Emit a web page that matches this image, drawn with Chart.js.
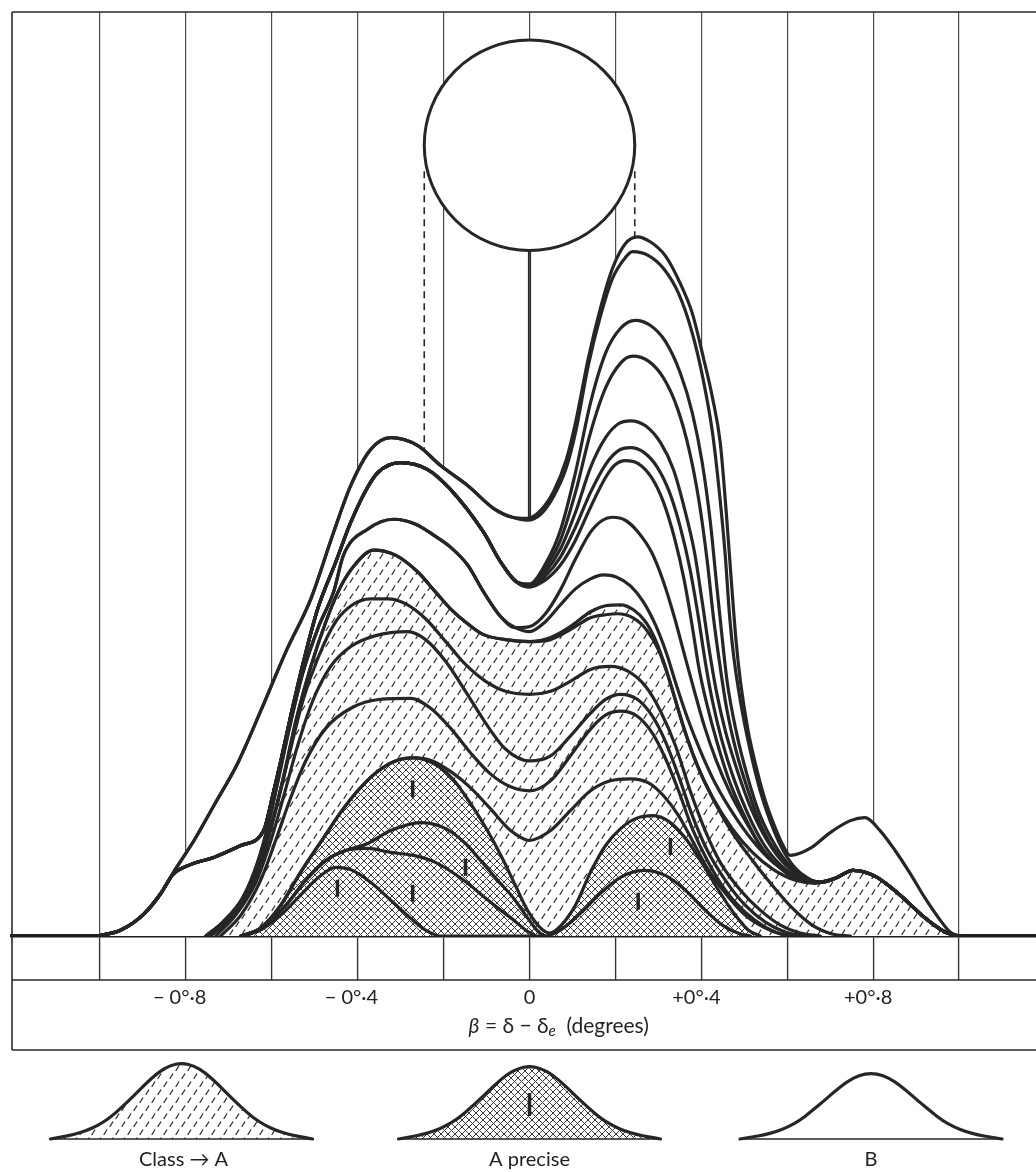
<!DOCTYPE html>
<html><head><meta charset="utf-8">
<script src="https://cdn.jsdelivr.net/npm/chart.js@4.4.1/dist/chart.umd.min.js"></script>
<style>
html,body{margin:0;padding:0;background:#fff;overflow:hidden}
#wrap{width:1036px;height:1172px;overflow:hidden;position:relative;background:#fff}
canvas{display:block}
</style>
</head><body>
<div id="wrap"><canvas id="c" width="1060" height="1172" style="width:1060px;height:1172px"></canvas></div>
<script>
// ---------- axis / text ----------
const gridValues = [-1, -0.8, -0.6, -0.4, -0.2, 0, 0.2, 0.4, 0.6, 0.8, 1];
const labelValues = [-0.8, -0.4, 0, 0.4, 0.8];
const tickLabels = ['\u2212 0\u00b0\u00b78\u2002\u2009', '\u2212 0\u00b0\u00b74\u2002\u2009', '0', '+0\u00b0\u00b74\u2002', '+0\u00b0\u00b78\u2002'];
const titleParts = [['\u03b2', 'italic'], [' = \u03b4 \u2212 \u03b4', 'normal'], ['e', 'sub'], ['  (degrees)', 'normal']];
const legendLabels = ['Class \u2192 A', 'A precise', 'B'];
const legendFills = ['dash', 'cross', 'none'];

// ---------- class means (tick marks in the cross-hatched part) ----------
const meanDeg = [-0.447, -0.272, -0.149, -0.272, 0.253, 0.328];
const meanLevel = [4.8, 4.3, 6.9, 14.8, 3.5, 9.0];

// ---------- sun disc ----------
const sunCentreDeg = 0;
const sunCentreLevel = 79.5;
const sunDiameterDeg = 0.49;

// ---------- cumulative curves: [beta (deg), level] ----------
const lineL1 = [[-0.672,0],[-0.626,0.6],[-0.579,2.1],[-0.533,4.1],[-0.491,5.9],[-0.451,6.9],[-0.412,6.6],[-0.370,5.4],[-0.323,3.6],[-0.277,1.8],[-0.242,0.6],[-0.207,0],[0.037,0],[0.072,0.6],[0.119,2.3],[0.165,4.3],[0.212,5.9],[0.265,6.6],[0.316,6.1],[0.363,4.6],[0.409,2.6],[0.449,1.1],[0.491,0.2],[0.514,0]];
const leftL2 = [[-0.660,0],[-0.614,1.1],[-0.567,3.1],[-0.521,5.6],[-0.474,7.6],[-0.428,8.6]];
const restL2 = [[-0.377,8.8],[-0.323,8.4],[-0.270,8.1],[-0.219,7.4],[-0.153,5.6],[-0.102,3.8],[-0.067,2.6],[-0.037,1.6],[-0.009,0.6],[0.014,0]];
const restL3 = [[-0.377,9.3],[-0.323,10.6],[-0.253,11.4],[-0.195,10.8],[-0.149,9.3],[-0.114,7.6],[-0.074,5.6],[-0.037,3.8],[-0.009,2.1],[0.021,0.4],[0.037,0]];
const leftX = [[-0.672,0],[-0.626,0.8],[-0.579,3.1],[-0.533,6.4],[-0.479,9.9],[-0.440,12.4],[-0.400,14.6],[-0.358,16.4],[-0.312,17.6],[-0.270,17.9]];
const restX = [[-0.226,17.4],[-0.179,15.8],[-0.137,13.3],[-0.098,10.6],[-0.063,7.8],[-0.033,5.1],[-0.005,2.6],[0.026,0.8],[0.047,0.3],[0.072,1.0],[0.107,3.1],[0.142,6.4],[0.177,9.1],[0.212,10.8],[0.247,11.8],[0.288,12.1],[0.328,11.4],[0.367,9.6],[0.405,7.1],[0.440,4.6],[0.474,2.4],[0.509,0.6],[0.537,0]];
const restD1 = [[-0.226,17.6],[-0.179,16.4],[-0.137,14.9],[-0.091,12.8],[-0.044,10.6],[0,9.6],[0.049,10.6],[0.095,12.6],[0.142,14.6],[0.188,15.6],[0.235,15.8],[0.277,15.4],[0.312,14.1],[0.347,12.1],[0.379,9.6],[0.414,6.8],[0.456,4.3],[0.502,2.1],[0.549,0.8],[0.595,0.1],[0.630,0]];
const lineD2 = [[-0.719,0],[-0.672,2.1],[-0.626,5.6],[-0.591,9.6],[-0.556,13.9],[-0.521,17.6],[-0.474,20.9],[-0.416,22.9],[-0.347,23.8],[-0.277,23.9],[-0.230,22.9],[-0.184,20.9],[-0.137,18.4],[-0.091,16.3],[-0.044,15.0],[0,14.6],[0.049,15.6],[0.095,18.1],[0.142,20.8],[0.177,22.2],[0.212,22.6],[0.251,22.1],[0.286,20.4],[0.316,17.9],[0.347,14.6],[0.379,10.8],[0.414,7.6],[0.456,4.6],[0.502,2.4],[0.549,0.9],[0.595,0.1],[0.630,0]];
const lineD3 = [[-0.730,0],[-0.684,2.1],[-0.637,5.4],[-0.602,9.6],[-0.572,14.1],[-0.540,19.1],[-0.505,23.6],[-0.463,27.1],[-0.416,29.1],[-0.358,30.2],[-0.284,30.6],[-0.242,29.8],[-0.195,27.6],[-0.149,24.6],[-0.102,21.4],[-0.056,18.8],[0,17.6],[0.049,18.1],[0.095,20.1],[0.142,22.4],[0.177,23.8],[0.212,24.3],[0.251,23.8],[0.286,22.1],[0.316,19.6],[0.347,16.1],[0.379,12.1],[0.414,8.6],[0.456,5.6],[0.502,3.1],[0.549,1.4],[0.595,0.4],[0.642,0]];
const lineD4 = [[-0.742,0],[-0.695,1.8],[-0.649,4.8],[-0.616,8.6],[-0.588,13.1],[-0.560,18.1],[-0.528,23.6],[-0.491,28.1],[-0.451,31.6],[-0.412,33.3],[-0.370,33.9],[-0.330,33.9],[-0.288,33.4],[-0.242,31.9],[-0.195,29.6],[-0.149,27.3],[-0.102,25.6],[-0.056,24.6],[0,24.3],[0.049,24.6],[0.095,25.6],[0.142,26.8],[0.188,27.1],[0.230,26.6],[0.270,25.1],[0.305,22.6],[0.340,19.1],[0.374,14.6],[0.409,10.6],[0.444,7.4],[0.491,4.6],[0.537,2.6],[0.584,1.1],[0.630,0.3],[0.677,0]];
const leftH = [[-0.753,0],[-0.707,1.6],[-0.660,4.1],[-0.626,7.6],[-0.598,11.6],[-0.572,16.1],[-0.544,21.6],[-0.509,27.1],[-0.474,31.6],[-0.440,35.1],[-0.405,37.4],[-0.363,38.8],[-0.312,38.3],[-0.260,36.6],[-0.219,34.6],[-0.184,32.9],[-0.144,31.4],[-0.107,30.3],[-0.056,29.8],[0,29.6]];
const restD5 = [[0.049,29.8],[0.095,30.8],[0.142,32.0],[0.177,32.3],[0.205,32.4],[0.240,32.0],[0.272,30.8],[0.300,28.8],[0.323,26.1],[0.344,23.1],[0.367,19.9],[0.398,16.4],[0.433,13.3],[0.472,10.4],[0.519,7.6],[0.565,5.1],[0.612,2.8],[0.658,1.1],[0.705,0.2],[0.747,0]];
const restH = [[0.049,30.0],[0.095,31.1],[0.142,32.6],[0.177,33.2],[0.212,33.3],[0.242,32.8],[0.270,31.6],[0.295,29.6],[0.316,27.1],[0.337,24.1],[0.360,20.8],[0.391,17.1],[0.428,13.8],[0.472,10.8],[0.519,8.4],[0.567,6.7],[0.619,5.6],[0.665,5.3]];
const tailH = [[0.712,5.8],[0.753,6.6],[0.805,6.0],[0.863,4.1],[0.921,1.8],[0.967,0.4],[0.998,0]];
const leftW8 = [[-0.753,0],[-0.714,1.4],[-0.667,3.9],[-0.633,7.4],[-0.607,11.4],[-0.584,15.9],[-0.558,21.1],[-0.528,26.4],[-0.491,31.1],[-0.456,34.6],[-0.433,38.3],[-0.377,40.9],[-0.316,41.9],[-0.265,41.4],[-0.223,40.3],[-0.184,39.1],[-0.144,37.3],[-0.107,34.6],[-0.067,32.1],[-0.033,31.0]];
const restW9 = [[0,30.6],[0.037,31.6],[0.072,33.3],[0.107,34.9],[0.142,35.9],[0.172,36.3],[0.202,36.1],[0.235,35.2],[0.265,33.6],[0.293,31.3],[0.319,28.4],[0.342,25.2],[0.367,22.0],[0.398,18.6],[0.433,15.3],[0.474,12.3],[0.519,9.6],[0.567,7.4],[0.619,6.0],[0.665,5.4]];
const restW8 = [[0,31.1],[0.037,32.4],[0.072,34.8],[0.107,37.9],[0.142,40.6],[0.170,41.8],[0.193,42.1],[0.223,41.8],[0.253,40.6],[0.284,38.6],[0.312,35.6],[0.337,32.1],[0.360,28.4],[0.384,24.6],[0.407,21.1],[0.435,17.6],[0.467,14.4],[0.505,11.4],[0.549,8.3],[0.595,6.5],[0.642,5.6],[0.672,5.4]];
const leftKink = [[-1.005,0],[-0.951,0.6],[-0.898,2.2],[-0.858,4.3],[-0.830,6.2],[-0.788,7.2],[-0.735,7.9],[-0.672,9.1],[-0.619,10.6],[-0.598,14.1],[-0.579,17.6],[-0.556,22.1],[-0.526,27.6],[-0.493,32.9],[-0.451,37.6],[-0.416,41.6],[-0.381,44.8],[-0.353,46.6],[-0.300,47.6],[-0.237,46.9],[-0.184,44.9],[-0.107,40.6],[-0.067,37.6],[-0.030,35.6]];
const restW7 = [[0,35.1],[0.037,35.8],[0.072,37.3],[0.107,39.8],[0.142,43.1],[0.177,46.1],[0.200,47.4],[0.223,47.8],[0.253,47.5],[0.284,46.1],[0.312,43.6],[0.337,40.1],[0.360,35.8],[0.379,31.1],[0.395,26.8],[0.414,23.1],[0.437,19.4],[0.465,15.6],[0.500,12.1],[0.537,9.1],[0.584,6.8],[0.630,5.6],[0.672,5.4]];
const restW6 = [[0,35.1],[0.037,36.2],[0.072,38.1],[0.107,41.1],[0.142,44.6],[0.177,47.4],[0.207,48.8],[0.235,49.1],[0.267,48.6],[0.298,47.1],[0.326,44.6],[0.351,41.1],[0.374,36.8],[0.393,32.1],[0.409,27.6],[0.426,23.6],[0.447,19.8],[0.474,16.0],[0.507,12.4],[0.544,9.3],[0.588,7.0],[0.637,5.7],[0.677,5.4]];
const restW5 = [[0,35.2],[0.037,36.6],[0.072,38.9],[0.107,42.6],[0.142,47.1],[0.177,50.1],[0.207,51.5],[0.235,51.8],[0.270,51.3],[0.305,49.6],[0.335,46.9],[0.360,43.1],[0.384,38.6],[0.402,33.6],[0.419,28.6],[0.435,24.6],[0.456,20.6],[0.484,16.6],[0.516,12.8],[0.553,9.6],[0.595,7.2],[0.642,5.8],[0.677,5.4]];
const restW4 = [[0,35.3],[0.037,37.0],[0.072,39.8],[0.107,44.6],[0.142,50.6],[0.177,55.1],[0.212,57.6],[0.240,58.3],[0.277,57.8],[0.312,56.1],[0.344,53.1],[0.372,48.8],[0.395,43.6],[0.414,37.6],[0.428,32.1],[0.442,27.6],[0.458,23.1],[0.481,18.6],[0.509,14.6],[0.542,10.8],[0.579,8.1],[0.619,6.4],[0.665,5.4]];
const restW3 = [[0,35.4],[0.037,37.4],[0.072,40.8],[0.107,46.6],[0.142,53.6],[0.177,58.6],[0.212,61.1],[0.247,61.9],[0.281,61.4],[0.316,59.8],[0.351,56.6],[0.379,52.6],[0.402,47.6],[0.421,41.6],[0.435,35.6],[0.447,30.6],[0.460,25.6],[0.481,20.6],[0.507,16.1],[0.537,12.1],[0.572,9.1],[0.607,7.0],[0.642,5.8],[0.677,5.4]];
const leftW1 = [[-1.005,0],[-0.951,0.6],[-0.898,2.2],[-0.858,4.3],[-0.823,6.8],[-0.781,9.6],[-0.735,13.1],[-0.679,17.4],[-0.626,22.6],[-0.567,28.6],[-0.509,33.9],[-0.456,40.6],[-0.416,45.3],[-0.370,48.9],[-0.323,50.1],[-0.260,49.3],[-0.207,47.3],[-0.144,45.3],[-0.084,43.0],[-0.040,42.1]];
const restW2 = [[-0.005,41.8],[0.026,42.4],[0.056,44.2],[0.085,47.0],[0.107,50.6],[0.137,57.4],[0.165,62.3],[0.193,66.1],[0.223,68.2],[0.240,68.8],[0.277,68.4],[0.312,67.1],[0.347,64.6],[0.379,60.6],[0.405,55.8],[0.426,50.6],[0.442,44.6],[0.456,38.1],[0.465,32.6],[0.474,28.6],[0.491,23.6],[0.514,18.6],[0.537,14.6],[0.560,11.6],[0.588,8.8],[0.619,6.8],[0.649,5.8],[0.677,5.4]];
const restW1 = [[-0.005,42.0],[0.026,42.8],[0.056,44.7],[0.085,47.8],[0.107,51.6],[0.137,58.1],[0.165,63.1],[0.193,67.1],[0.223,69.6],[0.251,70.3],[0.281,69.8],[0.316,68.4],[0.351,65.6],[0.379,62.6],[0.405,58.1],[0.426,54.1],[0.444,49.6],[0.458,42.6],[0.470,35.6],[0.481,29.6],[0.491,25.6],[0.509,20.6],[0.530,16.6],[0.549,13.6],[0.570,11.1],[0.588,9.3],[0.607,8.1],[0.653,8.8],[0.700,10.4],[0.747,11.6],[0.781,11.9],[0.816,10.6],[0.851,8.6],[0.886,6.3],[0.921,3.8],[0.956,1.6],[0.979,0.4],[1.0,0]];

// ---------- legend glyph shape ----------
const bellShape = [0,0.03,0.06,0.11,0.18,0.28,0.42,0.57,0.73,0.87,0.966,1,0.966,0.87,0.73,0.57,0.42,0.28,0.18,0.11,0.06,0.03,0];
const legendCentresDeg = [-0.81, 0, 0.795];
const legendHalfWidthDeg = 0.305;
const legendHeights = [76, 73, 66];

// ---------- helpers ----------
const canvas = document.getElementById('c');
const mainCtx = canvas.getContext('2d');
function makePattern(kind) {
  const c = document.createElement('canvas');
  const g = c.getContext('2d');
  if (kind === 'dash') {
    c.width = 12; c.height = 16;
    g.fillStyle = '#fff'; g.fillRect(0, 0, 12, 16);
    g.strokeStyle = '#2e2e2e'; g.lineWidth = 1.3; g.lineCap = 'round';
    g.beginPath();
    g.moveTo(2, 6.5); g.lineTo(4.8, 2);
    g.moveTo(8, 14.5); g.lineTo(10.8, 10);
    g.stroke();
  } else {
    c.width = 7; c.height = 7;
    g.fillStyle = '#fff'; g.fillRect(0, 0, 7, 7);
    g.strokeStyle = '#3a3a3a'; g.lineWidth = 1;
    g.beginPath();
    g.moveTo(0, 0); g.lineTo(7, 7);
    g.moveTo(7, 0); g.lineTo(0, 7);
    g.stroke();
  }
  return mainCtx.createPattern(c, 'repeat');
}
const dashPattern = makePattern('dash');
const crossPattern = makePattern('cross');
const pts = arr => arr.map(p => ({x: p[0], y: p[1]}));
const INK = '#262626';
const lineStyle = {borderColor: INK, borderWidth: 3.2, pointRadius: 0, pointHoverRadius: 0,
  cubicInterpolationMode: 'monotone', fill: false, borderJoinStyle: 'round', borderCapStyle: 'round'};

const datasets = [
  {type: 'scatter', label: 'class means', data: meanDeg.map((m, i) => ({x: m, y: meanLevel[i]})),
   pointStyle: 'line', rotation: 90, pointRadius: 8.5, borderWidth: 3.5, borderColor: INK, backgroundColor: INK, showLine: false},
  Object.assign({label: 'L1', data: pts(lineL1)}, lineStyle),
  Object.assign({label: 'L2', data: pts(leftL2.concat(restL2))}, lineStyle),
  Object.assign({label: 'L3', data: pts(leftL2.concat(restL3))}, lineStyle),
  Object.assign({}, lineStyle, {label: 'A precise', data: pts(leftX.concat(restX)), fill: 'origin', backgroundColor: crossPattern}),
  Object.assign({label: 'D1', data: pts(leftX.concat(restD1))}, lineStyle),
  Object.assign({label: 'D2', data: pts(lineD2)}, lineStyle),
  Object.assign({label: 'D3', data: pts(lineD3)}, lineStyle),
  Object.assign({label: 'D4', data: pts(lineD4)}, lineStyle),
  Object.assign({label: 'D5', data: pts(leftH.concat(restD5))}, lineStyle),
  Object.assign({}, lineStyle, {label: 'Class \u2192 A', data: pts(leftH.concat(restH, tailH)), fill: 'origin', backgroundColor: dashPattern}),
  Object.assign({label: 'W9', data: pts(leftW8.concat(restW9, tailH))}, lineStyle),
  Object.assign({label: 'W8', data: pts(leftW8.concat(restW8, tailH))}, lineStyle),
  Object.assign({label: 'W7', data: pts(leftKink.concat(restW7, tailH))}, lineStyle),
  Object.assign({label: 'W6', data: pts(leftKink.concat(restW6, tailH))}, lineStyle),
  Object.assign({label: 'W5', data: pts(leftKink.concat(restW5, tailH))}, lineStyle),
  Object.assign({label: 'W4', data: pts(leftKink.concat(restW4, tailH))}, lineStyle),
  Object.assign({label: 'W3', data: pts(leftKink.concat(restW3, tailH))}, lineStyle),
  Object.assign({label: 'W2', data: pts(leftW1.concat(restW2, tailH))}, lineStyle),
  Object.assign({}, lineStyle, {label: 'B', data: pts(leftW1.concat(restW1)), fill: 'origin', backgroundColor: '#ffffff'})
];

const TICK_LEN = 44;
const decor = {
  id: 'decor',
  beforeDraw(chart) {
    const {ctx, chartArea: a, scales: {x, y}} = chart;
    const cx = x.getPixelForValue(sunCentreDeg);
    const cy = y.getPixelForValue(sunCentreLevel);
    const r = x.getPixelForValue(sunCentreDeg + sunDiameterDeg / 2) - cx;
    ctx.save();
    ctx.strokeStyle = INK;
    ctx.lineWidth = 3.2;
    ctx.beginPath(); ctx.moveTo(cx, cy + r - 2); ctx.lineTo(cx, a.bottom); ctx.stroke();
    ctx.lineWidth = 1.6; ctx.setLineDash([7, 5]);
    [-1, 1].forEach(s => { ctx.beginPath(); ctx.moveTo(cx + s * r, cy + 26); ctx.lineTo(cx + s * r, a.bottom); ctx.stroke(); });
    ctx.restore();
  },
  afterDatasetsDraw(chart) {
    const {ctx, scales: {x, y}} = chart;
    const cx = x.getPixelForValue(sunCentreDeg);
    const cy = y.getPixelForValue(sunCentreLevel);
    const r = x.getPixelForValue(sunCentreDeg + sunDiameterDeg / 2) - cx;
    ctx.save();
    ctx.beginPath(); ctx.arc(cx, cy, r, 0, Math.PI * 2);
    ctx.fillStyle = '#fff'; ctx.fill();
    ctx.lineWidth = 3; ctx.strokeStyle = INK; ctx.stroke();
    ctx.restore();
  },
  afterDraw(chart) {
    const {ctx, chartArea: a, scales: {x}} = chart;
    const W = chart.width;
    ctx.save();
    // frame
    ctx.strokeStyle = '#2a2a2a'; ctx.lineWidth = 1.6;
    ctx.beginPath();
    ctx.moveTo(a.left, a.top); ctx.lineTo(W, a.top);
    ctx.moveTo(a.left, a.top); ctx.lineTo(a.left, x.bottom);
    ctx.moveTo(a.left, a.bottom + TICK_LEN); ctx.lineTo(W, a.bottom + TICK_LEN);
    ctx.moveTo(a.left, x.bottom); ctx.lineTo(W, x.bottom);
    ctx.stroke();
    // axis title
    const fam = 'Lato, "Open Sans", sans-serif';
    const fonts = {italic: 'italic 21px ' + fam, normal: '21px ' + fam, sub: 'italic 15px ' + fam};
    let total = 0;
    titleParts.forEach(p => { ctx.font = fonts[p[1]]; total += ctx.measureText(p[0]).width; });
    let tx = x.getPixelForValue(0.068) - total / 2;
    const ty = x.bottom - 24;
    ctx.fillStyle = '#222'; ctx.textBaseline = 'middle'; ctx.textAlign = 'left';
    titleParts.forEach(p => {
      ctx.font = fonts[p[1]];
      ctx.fillText(p[0], tx, p[1] === 'sub' ? ty + 5 : ty);
      tx += ctx.measureText(p[0]).width;
    });
    // legend glyphs
    const base = x.bottom + 89;
    legendCentresDeg.forEach((cd, i) => {
      const cxp = x.getPixelForValue(cd);
      const half = x.getPixelForValue(cd + legendHalfWidthDeg) - cxp;
      const h = legendHeights[i];
      const n = bellShape.length;
      const P = bellShape.map((v, k) => [cxp - half + 2 * half * k / (n - 1), base - v * h]);
      const path = () => {
        ctx.beginPath(); ctx.moveTo(P[0][0], P[0][1]);
        for (let k = 1; k < n - 1; k++) {
          const mx = (P[k][0] + P[k + 1][0]) / 2, my = (P[k][1] + P[k + 1][1]) / 2;
          ctx.quadraticCurveTo(P[k][0], P[k][1], mx, my);
        }
        ctx.lineTo(P[n - 1][0], P[n - 1][1]);
      };
      if (legendFills[i] !== 'none') {
        path(); ctx.closePath();
        ctx.fillStyle = legendFills[i] === 'dash' ? dashPattern : crossPattern;
        ctx.fill();
      }
      ctx.strokeStyle = INK;
      ctx.lineWidth = 1.3;
      ctx.beginPath(); ctx.moveTo(P[0][0], base); ctx.lineTo(P[n - 1][0], base); ctx.stroke();
      ctx.lineWidth = 3.2; ctx.lineCap = 'round'; ctx.lineJoin = 'round';
      path(); ctx.stroke();
      if (legendFills[i] === 'cross') {
        ctx.lineWidth = 3.5; ctx.lineCap = 'butt';
        ctx.beginPath(); ctx.moveTo(cxp, base - 46); ctx.lineTo(cxp, base - 23); ctx.stroke();
      }
      ctx.fillStyle = '#222'; ctx.font = '20px ' + fam; ctx.textAlign = 'center'; ctx.textBaseline = 'middle';
      ctx.fillText(legendLabels[i], cxp + (i === 0 ? 2 : 0), base + 21);
    });
    ctx.restore();
  }
};

new Chart(canvas, {
  type: 'line',
  data: {datasets},
  options: {
    responsive: false,
    animation: false,
    events: [],
    layout: {padding: {top: 7, left: 11, right: 12, bottom: 122}},
    plugins: {
      legend: {display: false},
      tooltip: {enabled: false},
      filler: {propagate: false, drawTime: 'beforeDatasetsDraw'}
    },
    scales: {
      x: {
        type: 'linear', min: -1.2047, max: 1.207,
        afterBuildTicks: s => { s.ticks = gridValues.map(v => ({value: v})); },
        afterFit: s => { s.height = 114; },
        grid: {color: '#4a4a4a', lineWidth: 1.2, drawTicks: true, tickLength: TICK_LEN, tickColor: '#333', tickWidth: 1.4},
        border: {display: true, color: '#1e1e1e', width: 3.5},
        ticks: {
          autoSkip: false, maxRotation: 0, minRotation: 0, padding: 6, color: '#222',
          font: {family: 'Lato, "Open Sans", sans-serif', size: 20},
          callback: v => { const i = labelValues.findIndex(t => Math.abs(t - v) < 1e-6); return i < 0 ? '' : tickLabels[i]; }
        },
        title: {display: false}
      },
      y: {type: 'linear', min: 0, max: 92.9, display: false}
    }
  },
  plugins: [decor]
});
</script>
</body></html>
